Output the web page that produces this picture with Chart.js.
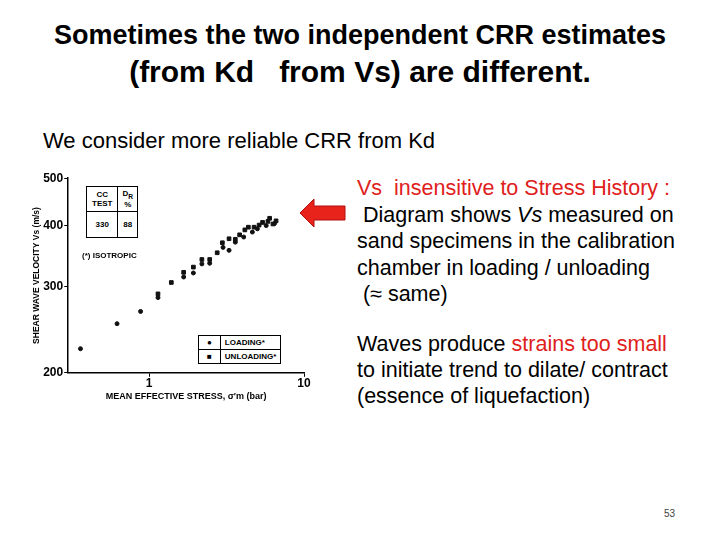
<!DOCTYPE html>
<html><head><meta charset="utf-8">
<script src="https://cdn.jsdelivr.net/npm/chart.js@4.4.0/dist/chart.umd.min.js"></script>
<style>
body{margin:0;width:720px;height:540px;background:#fff;font-family:"Liberation Sans",Arial,sans-serif;position:relative;overflow:hidden}
.t{position:absolute;white-space:nowrap}
#cw{position:absolute;left:32px;top:170px;width:286px;height:232px}
.box{position:absolute;border:1px solid #000;font:bold 8px "Liberation Sans";background:#fff}
</style></head><body>
<div class="t" style="left:0;width:720px;text-align:center;top:20px;font-size:27px;font-weight:bold">Sometimes the two independent CRR estimates</div>
<div class="t" style="left:0;width:720px;text-align:center;top:55px;font-size:30px;font-weight:bold">(from Kd &nbsp;&nbsp;from Vs) are different.</div>
<div class="t" style="left:43px;top:128px;font-size:22px">We consider more reliable CRR from Kd</div>
<div class="t" style="left:357px;top:175px;font-size:21.5px;line-height:26.5px;color:#000">
<span style="color:#e0201b">Vs &nbsp;insensitive to Stress History :</span><br>
&nbsp;Diagram shows <i>Vs</i> measured on<br>sand specimens in the calibration<br>chamber in loading / unloading<br>&nbsp;(≈ same)</div>
<div class="t" style="left:357px;top:331px;font-size:21.5px;line-height:26px">
Waves produce <span style="color:#e0201b">strains too small</span><br>to initiate trend to dilate/ contract<br>(essence of liquefaction)</div>
<div class="t" style="left:664px;top:508px;font-size:10px;color:#444">53</div>
<svg style="position:absolute;left:298px;top:197px" width="50" height="32"><polygon points="2,16 16,2 16,9 47,9 47,23 16,23 16,30" fill="#e8231c" stroke="#b01010" stroke-width="1"/></svg>
<div id="cw"><canvas id="c"></canvas></div>
<table class="box" style="left:86px;top:186px;border-collapse:collapse;text-align:center">
<tr><td style="border:1px solid #000;padding:2px 5px">CC<br>TEST</td><td style="border:1px solid #000;padding:2px 4px">D<sub>R</sub><br>%</td></tr>
<tr><td style="border:1px solid #000;padding:8px 5px">330</td><td style="border:1px solid #000;padding:8px 4px">88</td></tr></table>
<div class="t" style="left:82px;top:251px;font:bold 8px 'Liberation Sans'">(*) ISOTROPIC</div>
<table class="box" style="left:198px;top:335px;border-collapse:collapse">
<tr><td style="border:1px solid #000;padding:2px 8px">●</td><td style="border:1px solid #000;padding:2px 4px">LOADING*</td></tr>
<tr><td style="border:1px solid #000;padding:2px 8px">■</td><td style="border:1px solid #000;padding:2px 4px">UNLOADING*</td></tr></table>
<script>
const loadX=[0.36,0.62,0.88,1.14,1.67,1.93,2.19,2.46,3.0,3.28,3.6,4.08,4.64,5.0,5.7,6.45];
const loadY=[224,252,267,285,314,320,334,335,361,356,370,379,388,394,400,404];
const unloadX=[1.14,1.39,1.67,1.93,2.19,2.46,2.75,2.97,3.28,3.6,3.84,4.15,4.37,4.76,5.13,5.4,5.85,6.3,6.0,6.6];
const unloadY=[290,306,321,329,341,341,352,369,376,375,383,392,397,397,401,406,408,403,414,409];
const xTicks=[1,10];
const yTicks=[200,300,400,500];
const pts=(xs,ys)=>xs.map((x,i)=>({x:x,y:ys[i]}));
const f={family:"Liberation Sans",weight:"bold",size:12};
const g={display:true,drawOnChartArea:false,drawTicks:true,tickLength:4,color:'#000'};
new Chart(document.getElementById('c'),{type:'scatter',
data:{datasets:[
{label:'LOADING*',data:pts(loadX,loadY),pointStyle:'circle',pointRadius:2,backgroundColor:'#111',borderColor:'#111'},
{label:'UNLOADING*',data:pts(unloadX,unloadY),pointStyle:'rect',pointRadius:2.6,backgroundColor:'#111',borderColor:'#111'}]},
options:{responsive:true,maintainAspectRatio:false,animation:false,
layout:{padding:{right:14,top:4}},
plugins:{legend:{display:false},tooltip:{enabled:false}},
scales:{
x:{type:'logarithmic',min:0.3,max:10,afterBuildTicks:a=>{a.ticks=xTicks.map(v=>({value:v}))},
 ticks:{font:f,color:'#000',maxRotation:0,padding:0,callback:v=>String(v)},grid:g,border:{display:true,color:'#000',width:1.5},
 title:{display:true,text:'MEAN EFFECTIVE STRESS, σ′m (bar)',font:{family:"Liberation Sans",weight:"bold",size:9},color:'#000',padding:0}},
y:{type:'logarithmic',min:200,max:500,afterBuildTicks:a=>{a.ticks=yTicks.map(v=>({value:v}))},
 ticks:{font:f,color:'#000',padding:1,callback:v=>String(v)},grid:g,border:{display:true,color:'#000',width:1.5},
 title:{display:true,text:'SHEAR WAVE VELOCITY Vs (m/s)',font:{family:"Liberation Sans",weight:"bold",size:8.5},color:'#000',padding:0}}}}});
</script></body></html>
